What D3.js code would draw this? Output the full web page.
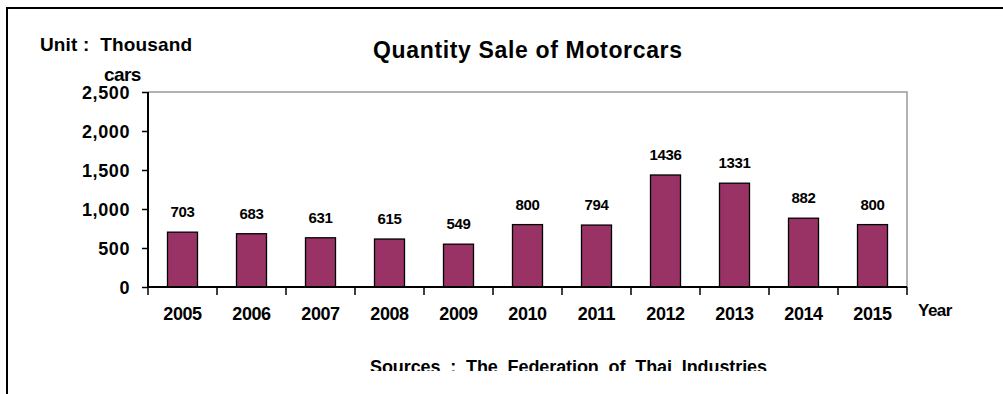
<!DOCTYPE html>
<html>
<head>
<meta charset="utf-8">
<script src="https://cdn.jsdelivr.net/npm/d3@7"></script>
<style>
  body { margin: 0; background: #fff; }
  text { font-family: "Liberation Sans", Arial, sans-serif; font-weight: bold; fill: #000; }
</style>
</head>
<body>
<div id="chart"></div>
<script>
var years = ["2005", "2006", "2007", "2008", "2009", "2010", "2011", "2012", "2013", "2014", "2015"];
var sales = [703, 683, 631, 615, 549, 800, 794, 1436, 1331, 882, 800];
var yTicks = [0, 500, 1000, 1500, 2000, 2500];

var W = 1003, H = 394;
var margin = {top: 92, right: 96, bottom: 107, left: 148},
    width = W - margin.left - margin.right,
    height = H - margin.top - margin.bottom;

var root = d3.select("#chart")
  .append("svg")
  .attr("width", W)
  .attr("height", H);

// outer frame
root.append("rect")
  .attr("x", 7).attr("y", 8)
  .attr("width", W + 20).attr("height", H + 20)
  .attr("fill", "none")
  .attr("stroke", "#000")
  .attr("stroke-width", 2);

root.append("text")
  .attr("x", 40).attr("y", 51)
  .attr("xml:space", "preserve")
  .attr("textLength", 152)
  .attr("lengthAdjust", "spacing")
  .style("font-size", "19px")
  .text("Unit :  Thousand");
root.append("text")
  .attr("x", 104).attr("y", 81)
  .style("font-size", "19px")
  .style("letter-spacing", "-0.6px")
  .text("cars");

root.append("text")
  .attr("x", 373).attr("y", 58)
  .attr("xml:space", "preserve")
  .attr("textLength", 309)
  .attr("lengthAdjust", "spacing")
  .style("font-size", "23px")
  .text("Quantity Sale of Motorcars");

root.append("text")
  .attr("x", 918).attr("y", 316)
  .style("font-size", "17px")
  .style("letter-spacing", "-0.5px")
  .text("Year");

// source line, clipped at the bottom like the picture
root.append("clipPath").attr("id", "srcclip")
  .append("rect").attr("x", 0).attr("y", 340).attr("width", W).attr("height", 31);
root.append("text")
  .attr("x", 370).attr("y", 373)
  .attr("clip-path", "url(#srcclip)")
  .attr("xml:space", "preserve")
  .attr("textLength", 397)
  .attr("lengthAdjust", "spacing")
  .style("font-size", "18px")
  .text("Sources  :  The  Federation  of  Thai  Industries");

var svg = root.append("g")
  .attr("transform", "translate(" + margin.left + "," + margin.top + ")");

var xb = d3.scaleBand().domain(years).range([0, width]);

var y = d3.scaleLinear()
  .domain([0, 2500])
  .range([height, 0]);

// plot border (gray top and right)
svg.append("path")
  .attr("d", "M0,0H" + width + "V" + height)
  .attr("fill", "none")
  .attr("stroke", "#999")
  .attr("stroke-width", 1.5);

svg.selectAll("rect.bar")
  .data(sales)
  .enter()
  .append("rect")
  .attr("class", "bar")
  .attr("x", function(d, i) { return xb(years[i]) + xb.bandwidth() / 2 - 15; })
  .attr("y", function(d) { return y(d); })
  .attr("width", 30)
  .attr("height", function(d) { return height - y(d); })
  .attr("fill", "#993366")
  .attr("stroke", "#000")
  .attr("stroke-width", 1.3);

svg.selectAll("text.val")
  .data(sales)
  .enter()
  .append("text")
  .attr("class", "val")
  .attr("x", function(d, i) { return xb(years[i]) + xb.bandwidth() / 2; })
  .attr("y", function(d) { return y(d) - 15; })
  .attr("text-anchor", "middle")
  .style("font-size", "15px")
  .style("letter-spacing", "-0.3px")
  .text(function(d) { return d; });

// y axis
var yAxis = svg.append("g")
  .call(d3.axisLeft(y).tickValues(yTicks).tickSize(6).tickPadding(12).tickFormat(d3.format(",")));
yAxis.select(".domain").attr("stroke-width", 2).attr("d", "M0," + (height + 1) + "V0");
yAxis.selectAll(".tick line").attr("stroke-width", 1.5);
yAxis.selectAll("text").style("font-size", "18px").style("letter-spacing", "0.6px")
  .attr("dy", "0.36em")
  .style("font-family", "Liberation Sans, Arial, sans-serif").style("font-weight", "bold");

// x axis with ticks between categories
var xAxis = svg.append("g")
  .attr("transform", "translate(0," + height + ")");
xAxis.append("line")
  .attr("x1", 0).attr("x2", width)
  .attr("stroke", "#000").attr("stroke-width", 2);
xAxis.selectAll("line.tk")
  .data(years.concat(["end"]))
  .enter()
  .append("line")
  .attr("class", "tk")
  .attr("x1", function(d, i) { return i < years.length ? xb(d) : width; })
  .attr("x2", function(d, i) { return i < years.length ? xb(d) : width; })
  .attr("y1", 0).attr("y2", 8)
  .attr("stroke", "#000").attr("stroke-width", 1.5);
xAxis.selectAll("text.yr")
  .data(years)
  .enter()
  .append("text")
  .attr("class", "yr")
  .attr("x", function(d) { return xb(d) + xb.bandwidth() / 2; })
  .attr("y", 33)
  .attr("text-anchor", "middle")
  .style("font-size", "18px")
  .style("letter-spacing", "-0.4px")
  .text(function(d) { return d; });
</script>
</body>
</html>
